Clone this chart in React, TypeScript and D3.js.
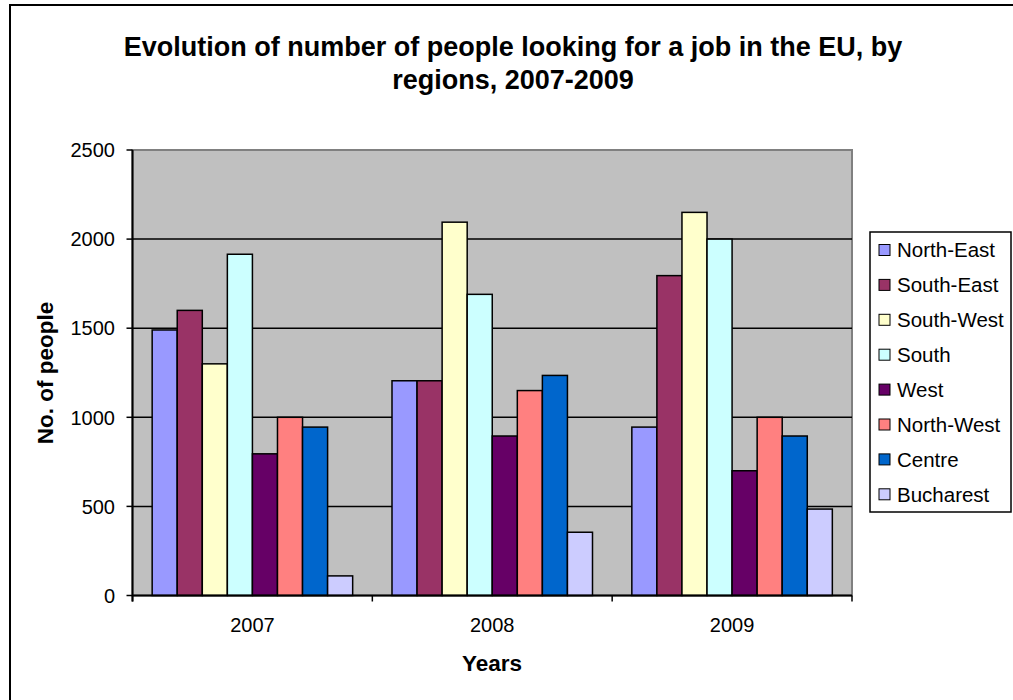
import React from "react";
import * as d3 from "d3";

const years = ["2007", "2008", "2009"];
const regions = ["North-East", "South-East", "South-West", "South", "West", "North-West", "Centre", "Bucharest"];
const northEast = [1490, 1205, 945];
const southEast = [1600, 1205, 1795];
const southWest = [1300, 2095, 2150];
const south = [1915, 1690, 2000];
const west = [795, 895, 700];
const northWest = [1000, 1150, 1000];
const centre = [945, 1235, 895];
const bucharest = [110, 355, 485];
const seriesValues = [northEast, southEast, southWest, south, west, northWest, centre, bucharest];
const colors = ["#9999FF", "#993366", "#FFFFCC", "#CCFFFF", "#660066", "#FF8080", "#0066CC", "#CCCCFF"];
const yTicks = [0, 500, 1000, 1500, 2000, 2500];

const W = 1013, H = 700;
const left = 132.5, right = 852, top = 150, bottom = 595.5;
const FONT = "'Liberation Sans', Arial, sans-serif";

export default function App() {
  const x0 = d3.scaleBand<string>().domain(years).range([left, right]).padding(0);
  const bw = x0.bandwidth();
  const gap = bw * 0.082;
  const x1 = d3.scaleBand<string>().domain(regions).range([gap, bw - gap]).padding(0);
  const y = d3.scaleLinear().domain([0, 2500]).range([bottom, top]);

  return (
    <svg width={W} height={H} style={{ position: "fixed", left: 0, top: 0, background: "#fff" }} fontFamily={FONT}>
      <rect x={10} y={5} width={1020} height={720} fill="#fff" stroke="#000" strokeWidth={2} />
      <text x={513} y={56} textAnchor="middle" fontSize={27} fontWeight="bold">
        Evolution of number of people looking for a job in the EU, by
      </text>
      <text x={513} y={89} textAnchor="middle" fontSize={27} fontWeight="bold">
        regions, 2007-2009
      </text>
      <rect x={left} y={top} width={right - left} height={bottom - top} fill="#C0C0C0" stroke="#808080" strokeWidth={2} />
      {yTicks.filter(t => t > 0 && t < 2500).map(t => (
        <line key={t} x1={left} x2={right} y1={y(t)} y2={y(t)} stroke="#000" strokeWidth={1.5} />
      ))}
      {years.map((yr, i) => (
        <g key={yr}>
          {regions.map((r, j) => {
            const v = seriesValues[j][i];
            return (
              <rect key={r} x={(x0(yr) as number) + (x1(r) as number)} y={y(v)} width={x1.bandwidth()} height={y(0) - y(v)}
                fill={colors[j]} stroke="#000" strokeWidth={1.5} />
            );
          })}
        </g>
      ))}
      <line x1={left} x2={left} y1={top} y2={bottom + 6} stroke="#000" strokeWidth={2} />
      <line x1={left} x2={right} y1={bottom} y2={bottom} stroke="#000" strokeWidth={2} />
      {yTicks.map(t => (
        <g key={t}>
          <line x1={left - 6} x2={left} y1={y(t)} y2={y(t)} stroke="#000" strokeWidth={1.5} />
          <text x={115} y={y(t)} dy="0.36em" textAnchor="end" fontSize={20}>{t}</text>
        </g>
      ))}
      {[...years.map(yr => x0(yr) as number), right].map((xv, i) => (
        <line key={i} x1={xv} x2={xv} y1={bottom} y2={bottom + 6} stroke="#000" strokeWidth={1.5} />
      ))}
      {years.map(yr => (
        <text key={yr} x={(x0(yr) as number) + bw / 2} y={632} textAnchor="middle" fontSize={20}>{yr}</text>
      ))}
      <text x={492} y={671} textAnchor="middle" fontSize={22.5} fontWeight="bold">Years</text>
      <text transform={`translate(53,373) rotate(-90)`} textAnchor="middle" fontSize={22.5} fontWeight="bold">No. of people</text>
      <rect x={870} y={232} width={141} height={280} fill="#fff" stroke="#000" strokeWidth={1.5} />
      {regions.map((r, j) => {
        const cy = 250 + j * 34.9;
        return (
          <g key={r}>
            <rect x={879} y={cy - 5.5} width={11} height={11} fill={colors[j]} stroke="#000" strokeWidth={1} />
            <text x={897} y={cy} dy="0.36em" fontSize={20.5}>{r}</text>
          </g>
        );
      })}
    </svg>
  );
}
